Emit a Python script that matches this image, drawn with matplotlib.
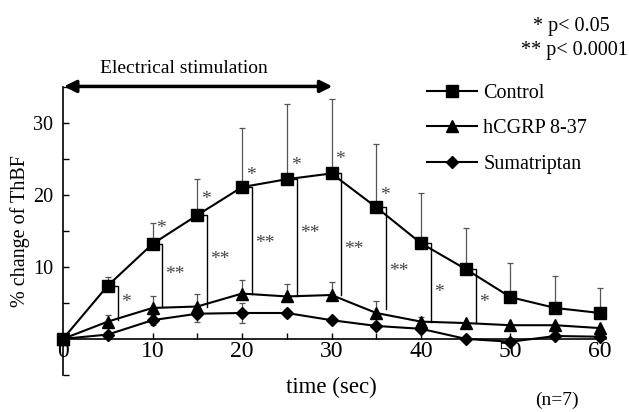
import matplotlib
matplotlib.use("Agg")
import matplotlib.pyplot as plt
from matplotlib.lines import Line2D
import numpy as np

plt.rcParams['font.family'] = ['Liberation Serif', 'DejaVu Serif']

time = [0, 5, 10, 15, 20, 25, 30, 35, 40, 45, 50, 55, 60]
control = [0, 7.4, 13.2, 17.2, 21.1, 22.2, 23.0, 18.3, 13.3, 9.7, 5.8, 4.3, 3.6]
control_err = [0, 1.2, 2.9, 5.0, 8.2, 10.4, 10.3, 8.8, 7.0, 5.7, 4.8, 4.45, 3.5]
hcgrp = [0, 2.4, 4.3, 4.5, 6.3, 5.9, 6.1, 3.6, 2.4, 2.2, 1.9, 1.9, 1.5]
hcgrp_err = [0, 0.9, 1.6, 1.8, 1.9, 1.8, 1.8, 1.7, 0.6, 0, 0, 0, 0]
suma = [0, 0.6, 2.6, 3.5, 3.6, 3.6, 2.6, 1.8, 1.4, 0.0, -0.4, 0.4, 0.3]
suma_err = [0, 0, 0.7, 1.1, 1.4, 0.6, 0, 0, 0, 0, 0, 0, 0]

# significance brackets (control vs hCGRP 8-37)
bracket_t = [5, 10, 15, 20, 25, 30, 35, 40, 45]
bracket_top = [7.4, 13.2, 17.2, 21.1, 22.2, 23.0, 18.3, 13.3, 9.7]
bracket_bottom = [2.6, 4.4, 4.5, 6.2, 5.9, 6.1, 4.2, 2.4, 2.4]
bracket_label = ['*', '**', '**', '**', '**', '**', '**', '*', '*']
bracket_label_y = [5.1, 8.9, 11.0, 13.3, 14.6, 12.4, 9.3, 6.5, 5.1]

# control vs sumatriptan stars
star_t = [10, 15, 20, 25, 30, 35]
star_y = [15.6, 19.7, 23.0, 24.4, 25.3, 20.3]

fig = plt.figure(figsize=(6.29, 4.12), dpi=100)
ax = fig.add_axes([63/629, (412-377)/412, (600-63)/629, (377-85)/412])
ax.set_xlim(0, 60)
ax.set_ylim(-5.3, 35.3)

errc = '#555555'
ax.errorbar(time, control, yerr=[np.zeros(len(control)), control_err], fmt='none',
            ecolor=errc, elinewidth=0.9, capsize=2.5, capthick=0.9, clip_on=False, zorder=2)
ax.errorbar(time, hcgrp, yerr=[np.zeros(len(hcgrp)), hcgrp_err], fmt='none',
            ecolor=errc, elinewidth=0.9, capsize=2.5, capthick=0.9, clip_on=False, zorder=2)
ax.errorbar(time, suma, yerr=suma_err, fmt='none',
            ecolor=errc, elinewidth=0.9, capsize=2.5, capthick=0.9, clip_on=False, zorder=2)

ax.plot(time, suma, '-D', color='black', lw=1.5, ms=6, clip_on=False, zorder=4)
ax.plot(time, hcgrp, '-^', color='black', lw=1.5, ms=8, clip_on=False, zorder=4)
ax.plot(time, control, '-s', color='black', lw=1.5, ms=9, clip_on=False, zorder=5)

for t, top, bot, lab, ly in zip(bracket_t, bracket_top, bracket_bottom, bracket_label, bracket_label_y):
    xb = t + 1.1
    ax.plot([t, xb, xb], [top, top, bot], color='black', lw=1.0, zorder=3)
    ax.text(xb + 0.35, ly, lab, fontsize=14, color='#444444', ha='left', va='center')

for t, y in zip(star_t, star_y):
    ax.text(t + 0.45, y - 0.3, '*', fontsize=14, color='#444444', ha='left', va='center')

# spines
ax.spines['top'].set_visible(False)
ax.spines['right'].set_visible(False)
ax.spines['bottom'].set_position(('data', 0))
ax.spines['bottom'].set_bounds(0, 60.7)
ax.spines['left'].set_bounds(-5, 35)
ax.spines['left'].set_linewidth(1.2)
ax.spines['bottom'].set_linewidth(1.2)

ax.set_xticks(np.arange(0, 61, 5))
ax.set_xticklabels(['0', '', '10', '', '20', '', '30', '', '40', '', '50', '', '60'])
ax.set_yticks(np.arange(-5, 36, 5))
ax.set_yticklabels(['', '', '', '10', '', '20', '', '30', ''])
ax.tick_params(axis='both', direction='in', length=4, width=1)
ax.tick_params(axis='x', pad=1.5, labelsize=17)
ax.tick_params(axis='y', pad=7, labelsize=14.5)

ax.set_xlabel('time (sec)', fontsize=16.5)
ax.xaxis.set_label_coords(0.5, 0.0)
ax.set_ylabel('% change of ThBF', fontsize=14.5)
ax.yaxis.set_label_coords(-0.062, 0.5)

# stimulation arrow
ax.annotate('', xy=(0.1, 35.1), xytext=(30.1, 35.1),
            arrowprops=dict(arrowstyle='<|-|>', color='black', lw=2.5, mutation_scale=18,
                            shrinkA=0, shrinkB=0), annotation_clip=False)
ax.text(13.5, 37.6, 'Electrical stimulation', fontsize=14, ha='center', va='center')

# legend
handles = [Line2D([], [], color='black', marker='s', ms=9, lw=1.5),
           Line2D([], [], color='black', marker='^', ms=8, lw=1.5),
           Line2D([], [], color='black', marker='D', ms=6, lw=1.5)]
fig.legend(handles, ['Control', 'hCGRP 8-37', 'Sumatriptan'], loc='upper left',
           bbox_to_anchor=(417/629, 1-74/412), frameon=False, fontsize=14.5,
           handlelength=2.5, handletextpad=0.3, labelspacing=0.8, borderpad=0)

fig.text(610/629, 1-27/412, '* p< 0.05', fontsize=14.5, ha='right', va='center')
fig.text(628/629, 1-50/412, '** p< 0.0001', fontsize=14.5, ha='right', va='center')
fig.text(557/629, 1-400/412, '(n=7)', fontsize=14, ha='center', va='center')

fig.savefig('out.png', dpi=100)
